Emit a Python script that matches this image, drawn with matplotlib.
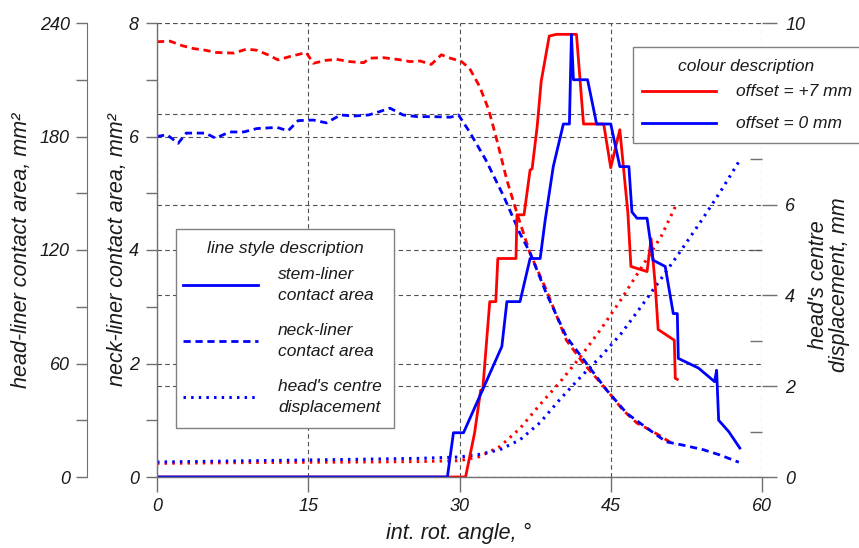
import matplotlib
matplotlib.use("Agg")
import matplotlib.pyplot as plt
from matplotlib import font_manager
from matplotlib.patches import Rectangle

# stem-liner contact area (solid), mm2, neck-liner axis
stem_p7_angle = [0, 30.6, 31.5, 32.1, 32.3, 33.0, 33.6, 33.8, 35.6, 35.7, 36.4, 37.0, 37.2,
                 37.7, 38.1, 38.9, 39.6, 41.6, 42.3, 44.3, 45.0, 45.9, 46.7, 47.0, 48.6,
                 49.0, 49.4, 49.7, 51.3, 51.4, 51.6]
stem_p7_area = [0, 0, 0.78, 1.53, 1.53, 3.09, 3.09, 3.85, 3.85, 4.62, 4.62, 5.41, 5.43,
                6.17, 6.97, 7.77, 7.80, 7.80, 6.22, 6.22, 5.45, 6.12, 4.65, 3.71, 3.62,
                4.20, 3.41, 2.60, 2.41, 1.74, 1.72]
stem_0_angle = [0, 28.8, 29.4, 30.4, 34.2, 34.7, 36.0, 37.0, 38.0, 38.5, 39.3, 40.3, 40.9,
                41.1, 41.3, 42.7, 43.6, 45.0, 45.9, 46.8, 47.1, 47.6, 48.6, 49.2, 50.4,
                51.2, 51.6, 51.7, 53.7, 55.3, 55.5, 55.7, 56.7, 57.8]
stem_0_area = [0, 0, 0.78, 0.78, 2.30, 3.09, 3.09, 3.85, 3.85, 4.53, 5.47, 6.22, 6.22,
               7.80, 7.00, 7.00, 6.22, 6.22, 5.47, 5.47, 4.67, 4.56, 4.56, 3.82, 3.71,
               2.88, 2.88, 2.09, 1.92, 1.68, 1.88, 1.00, 0.80, 0.51]

# neck-liner contact area (dashed)
neck_p7_angle = [0, 1.3, 2.5, 3.6, 4.8, 5.9, 7.6, 8.9, 9.9, 11.0, 12.0, 13.2, 14.8, 15.5,
                 16.7, 17.8, 19.1, 20.5, 21.1, 22.4, 23.8, 25.1, 26.1, 27.2, 28.2, 29.1,
                 30.2, 31.0, 32.0, 32.9, 33.7, 34.7, 35.7, 37.0, 38.6, 40.6, 42.3, 43.6,
                 44.9, 46.2, 47.6, 49.2, 51.2, 51.4]
neck_p7_area = [7.67, 7.68, 7.60, 7.55, 7.52, 7.48, 7.47, 7.54, 7.52, 7.44, 7.35, 7.41,
                7.48, 7.29, 7.34, 7.36, 7.32, 7.30, 7.38, 7.39, 7.36, 7.32, 7.33, 7.27,
                7.44, 7.38, 7.32, 7.20, 6.88, 6.47, 5.94, 5.23, 4.65, 3.94, 3.30, 2.41,
                2.00, 1.74, 1.47, 1.18, 0.95, 0.80, 0.58, 0.57]
neck_0_angle = [0, 1.0, 2.1, 2.9, 4.8, 5.8, 7.2, 8.6, 9.9, 11.9, 13.0, 14.0, 15.5, 16.8,
                18.2, 19.5, 21.0, 22.1, 23.1, 24.4, 25.8, 27.4, 29.1, 29.9, 31.0, 32.6,
                34.4, 36.0, 37.0, 38.6, 40.6, 42.6, 44.6, 46.6, 48.6, 50.5, 52.2, 54.2,
                55.8, 57.7]
neck_0_area = [6.00, 6.03, 5.88, 6.06, 6.06, 5.97, 6.08, 6.08, 6.14, 6.16, 6.10, 6.28,
               6.29, 6.24, 6.38, 6.36, 6.38, 6.44, 6.50, 6.38, 6.35, 6.35, 6.34, 6.38,
               6.08, 5.59, 4.94, 4.29, 3.95, 3.24, 2.47, 2.00, 1.53, 1.12, 0.86, 0.62,
               0.56, 0.48, 0.39, 0.26]

# head's centre displacement (dotted), mm
disp_p7_angle = [0, 10, 20, 26, 30, 32, 34, 36, 38, 40, 42, 44, 46, 48, 50, 51.5]
disp_p7 = [0.30, 0.32, 0.33, 0.34, 0.36, 0.45, 0.67, 1.07, 1.60, 2.10, 2.65, 3.25, 3.90,
           4.60, 5.30, 6.00]
disp_0_angle = [0, 10, 20, 26, 30, 32, 34, 36, 38, 40, 42, 44, 46, 48, 50, 52, 54, 56, 57.8]
disp_0 = [0.33, 0.36, 0.39, 0.41, 0.44, 0.50, 0.60, 0.82, 1.20, 1.72, 2.20, 2.65, 3.15,
          3.75, 4.37, 5.00, 5.65, 6.33, 6.98]

x_ticks = [0, 15, 30, 45, 60]
neck_ticks = [0, 2, 4, 6, 8]
head_ticks = [0, 60, 120, 180, 240]
disp_ticks = [0, 2, 4, 6, 8, 10]

style_title = "line style description"
style_labels = ["stem-liner\ncontact area", "neck-liner\ncontact area",
                "head's centre\ndisplacement"]
colour_title = "colour description"
colour_labels = ["offset = +7 mm", "offset = 0 mm"]

RED = "#ff0000"
BLUE = "#0000ff"
GREY = "#707070"
TXT = "#1a1a1a"

plt.rcParams["font.family"] = ["Liberation Sans", "DejaVu Sans"]
plt.rcParams["font.style"] = "italic"
plt.rcParams["text.color"] = TXT

# tick numbers look like a narrow face
try:
    font_manager.findfont("Liberation Sans Narrow", fallback_to_default=False)
    tick_family = ["Liberation Sans Narrow", "Liberation Sans"]
    tick_size = 15
except Exception:
    tick_family = ["Liberation Sans", "DejaVu Sans"]
    tick_size = 13

W, H = 859, 548
fig = plt.figure(figsize=(W / 100, H / 100), dpi=100)
x0, x1, y0, y1 = 157, 762, 23, 477
ax = fig.add_axes([x0 / W, 1 - y1 / H, (x1 - x0) / W, (y1 - y0) / H])
ax_out = ax.twinx()
ax_r = ax.twinx()
ax_out.set_zorder(1)
ax_r.set_zorder(2)
ax.set_zorder(3)
for a in (ax, ax_out, ax_r):
    a.patch.set_visible(False)
    for s in a.spines.values():
        s.set_visible(False)

grid_kw = dict(color="#505050", linestyle=(0, (4, 3)), linewidth=0.8)

# main (neck-liner) axis
ax.set_xlim(0, 60)
ax.set_ylim(0, 8)
ax.set_xticks(x_ticks)
ax.set_yticks(neck_ticks)
ax.set_yticks([1, 3, 5, 7], minor=True)
ax.spines["left"].set_visible(True)
ax.spines["bottom"].set_visible(True)
for s in ("left", "bottom"):
    ax.spines[s].set_color(GREY)
    ax.spines[s].set_linewidth(1.0)
ax.tick_params(axis="x", which="major", direction="out", length=10.8, width=1,
               color=GREY, pad=4.5, labelsize=tick_size, labelcolor=TXT)
ax.tick_params(axis="y", which="both", direction="out", length=8, width=1,
               color=GREY, pad=5, labelsize=tick_size, labelcolor=TXT)
ax.grid(True, which="major", **grid_kw)

# outer left (head-liner) axis
ax_out.set_ylim(0, 240)
ax_out.set_yticks(head_ticks)
ax_out.set_yticks([30, 90, 150, 210], minor=True)
ax_out.spines["left"].set_visible(True)
ax_out.spines["left"].set_position(("axes", -70 / 605))
ax_out.spines["left"].set_color(GREY)
ax_out.yaxis.set_ticks_position("left")
ax_out.tick_params(axis="y", which="both", direction="out", length=8, width=1,
                   color=GREY, pad=4.3, labelsize=tick_size, labelcolor=TXT)

# right (displacement) axis
ax_r.set_ylim(0, 10)
ax_r.set_yticks(disp_ticks)
ax_r.set_yticks([1, 3, 5, 7, 9], minor=True)
ax_r.tick_params(axis="y", which="major", direction="out", length=10.8, width=1,
                 color=GREY, pad=6, labelsize=tick_size, labelcolor=TXT)
ax_r.tick_params(axis="y", which="minor", direction="in", length=8.6, width=1, color=GREY)
ax_r.grid(True, which="major", axis="y", **grid_kw)

for lab in ax.get_xticklabels() + ax.get_yticklabels() + ax_out.get_yticklabels() + ax_r.get_yticklabels():
    lab.set_family(tick_family)

LW = 2.0
dash = (0, (2.6, 1.7))
dot = (0, (0.8, 1.7))

ax_r.plot(disp_p7_angle, disp_p7, color=RED, lw=2.2, linestyle=dot)
ax_r.plot(disp_0_angle, disp_0, color=BLUE, lw=2.2, linestyle=dot)
ax.plot(neck_p7_angle, neck_p7_area, color=RED, lw=LW, linestyle=dash)
ax.plot(neck_0_angle, neck_0_area, color=BLUE, lw=LW, linestyle=dash)
ax.plot(stem_p7_angle, stem_p7_area, color=RED, lw=LW)
ax.plot(stem_0_angle, stem_0_area, color=BLUE, lw=LW)

# axis titles
lab_size = 15.5
fig.text(22 / W, 1 - 250 / H, "head-liner contact area, mm²", rotation=90,
         ha="center", va="center", fontsize=lab_size)
fig.text(118 / W, 1 - 250 / H, "neck-liner contact area, mm²", rotation=90,
         ha="center", va="center", fontsize=lab_size)
fig.text(829 / W, 1 - 285 / H, "head's centre\ndisplacement, mm", rotation=90,
         ha="center", va="center", fontsize=lab_size, linespacing=1.0,
         multialignment="center")
fig.text(459 / W, 1 - 533 / H, "int. rot. angle, °", ha="center", va="center",
         fontsize=lab_size)

# legend boxes, laid out in figure pixels on an overlay axes
lg = fig.add_axes([0, 0, 1, 1], zorder=10)
lg.set_xlim(0, W)
lg.set_ylim(H, 0)
lg.axis("off")
lg.patch.set_visible(False)
leg_size = 12.5


def legend_box(left, top, right, bottom, title, title_x, title_y, rows, text_x,
               hx0, hx1):
    lg.add_patch(Rectangle((left, top), right - left, bottom - top, facecolor="white",
                           edgecolor="#808080", linewidth=1.0, clip_on=False))
    lg.text(title_x, title_y, title, ha="center", va="center", fontsize=leg_size)
    for y, label, color, ls, lw in rows:
        lg.plot([hx0, hx1], [y, y], color=color, linestyle=ls, lw=lw)
        lg.text(text_x, y, label, ha="left", va="center", fontsize=leg_size,
                linespacing=1.45)


legend_box(176, 229, 394, 428, style_title, 285, 248,
           [(285, style_labels[0], BLUE, "-", LW),
            (341, style_labels[1], BLUE, dash, LW),
            (397, style_labels[2], BLUE, dot, 2.2)],
           278, 183, 258)
legend_box(633, 47, 862, 143, colour_title, 746, 67,
           [(91, colour_labels[0], RED, "-", LW),
            (123, colour_labels[1], BLUE, "-", LW)],
           736, 642, 716)

fig.savefig("out.png", dpi=100, facecolor="white")
